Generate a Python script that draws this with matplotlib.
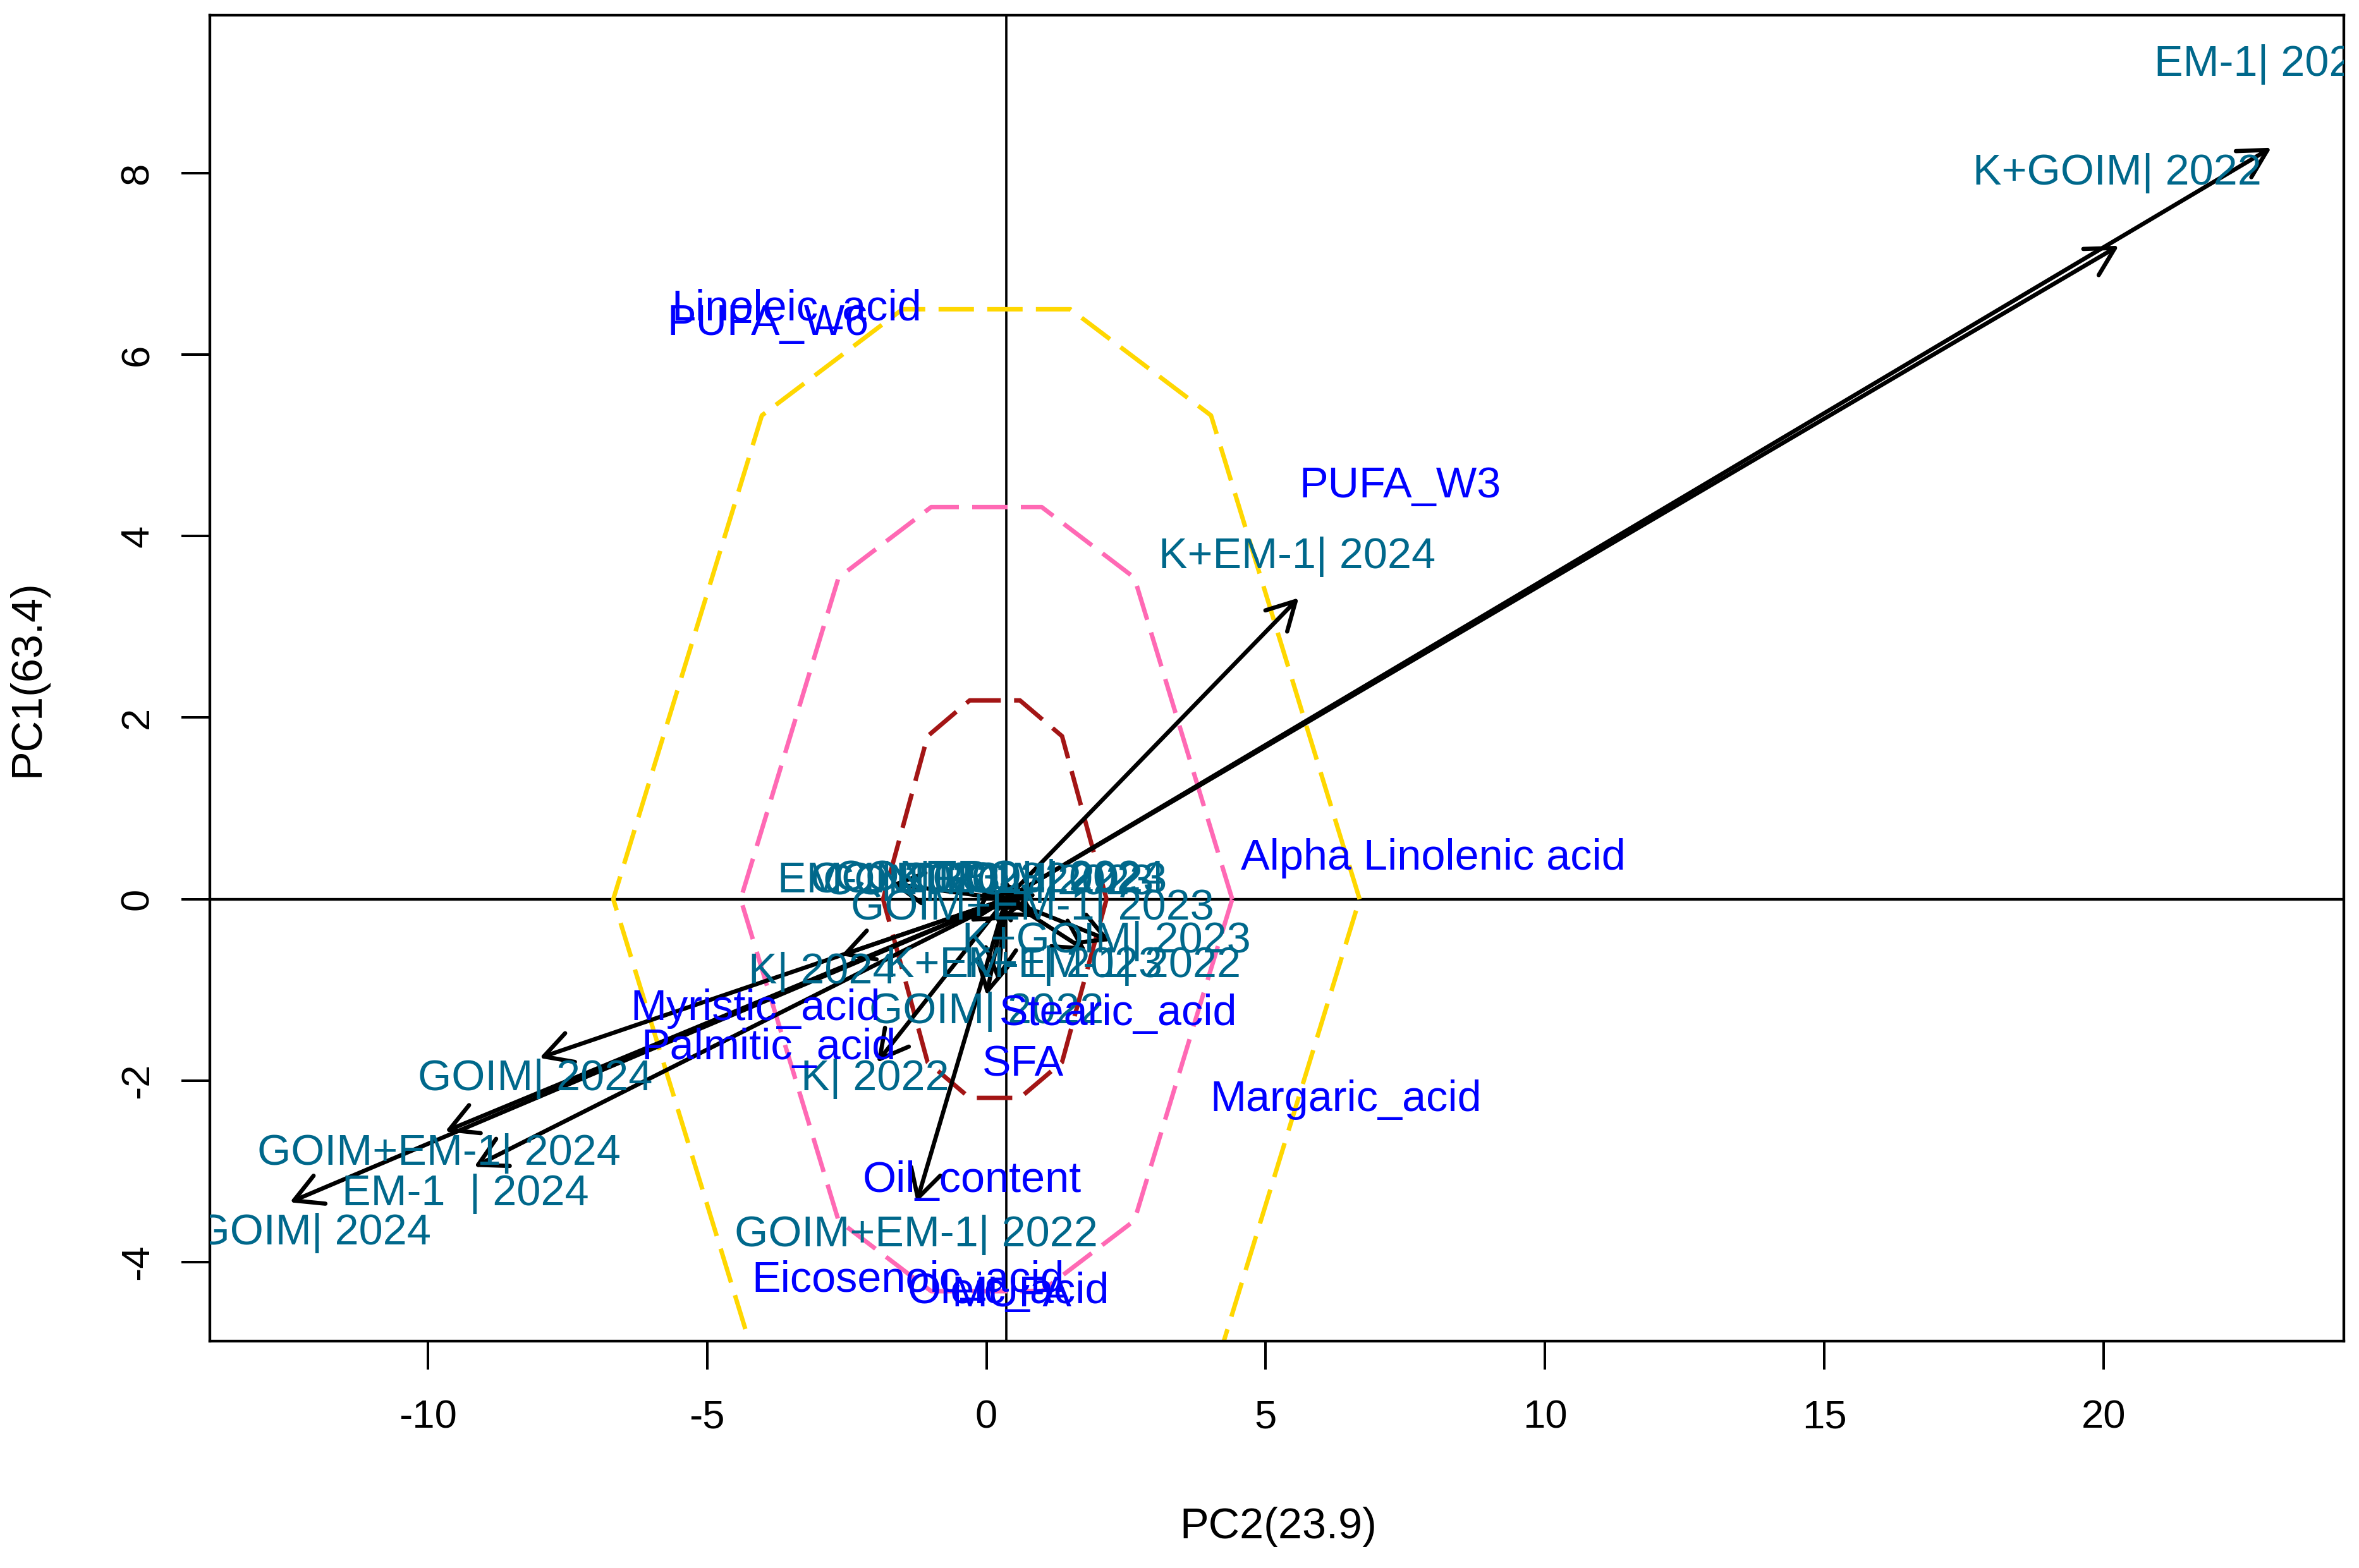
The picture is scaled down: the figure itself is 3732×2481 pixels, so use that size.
import matplotlib
matplotlib.use("Agg")
import matplotlib.pyplot as plt
import numpy as np

# tratamientos x año: posicion del texto (puntaje) y punta de la flecha
tratamientos = [
    "EM-1| 2022", "K+GOIM| 2022", "K+EM-1| 2024", "GOIM| 2024",
    "GOIM+EM-1| 2024", "EM-1  | 2024", "K+GOIM| 2024", "GOIM+EM-1| 2022",
    "K| 2022", "GOIM| 2022", "K| 2024", "K+GOIM| 2023", "K+EM-1| 2022",
    "EM-1| 2023", "CONTROL| 2022", "CONTROL| 2023", "CONTROL| 2024",
    "GOIM+EM-1| 2023", "K+EM-1| 2023", "GOIM| 2023", "K| 2023",
]
trat_x = [22.9, 20.24, 5.56, -8.08, -9.8, -9.33, -12.53, -1.26, -2.0, 0.0, -2.93,
          2.15, 2.08, -1.75, -0.19, 0.03, 0.24, 0.82, 0.67, 1.13, -0.3]
trat_y = [9.2, 8.0, 3.77, -1.98, -2.8, -3.25, -3.68, -3.7, -1.98, -1.24, -0.8,
          -0.46, -0.73, 0.2, 0.2, 0.18, 0.22, -0.1, -0.73, 0.2, 0.2]
flecha_x = [23.0, 20.27, 5.59, -8.0, -9.69, -9.17, -12.47, -1.25, -1.96, 0.0, -2.6,
            2.22, 1.79, -1.7, 0.1, 0.6, 0.9, 0.7, 0.2, 0.9, -0.3]
flecha_y = [8.28, 7.2, 3.32, -1.75, -2.56, -2.95, -3.34, -3.34, -1.8, -1.06, -0.62,
            -0.46, -0.57, 0.17, 0.1, 0.08, 0.05, -0.12, -0.9, -0.2, -0.25]

# variables (acidos grasos) en azul, sin flecha
variables = [
    "Linoleic_acid", "PUFA_W6", "PUFA_W3", "Alpha Linolenic acid", "Myristic_acid",
    "Palmitic_acid", "Stearic_acid", "SFA", "Margaric_acid", "Oil_content",
    "Eicosenoic_acid", "Oleic_acid", "MUFA",
]
var_x = [-3.4, -3.91, 7.4, 8.0, -4.14, -3.9, 2.36, 0.66, 6.43, -0.26, -1.4, 0.4, 0.45]
var_y = [6.5, 6.34, 4.55, 0.45, -1.21, -1.64, -1.26, -1.82, -2.21, -3.1, -4.2, -4.33, -4.36]

# elipses de concentracion: centro y semiejes
elipse_cx = [0.0, 0.0, 0.15]
elipse_cy = [0.0, 0.0, 0.0]
elipse_a = [6.68, 4.40, 2.0]
elipse_b = [6.50, 4.32, 2.19]
elipse_col = ["#FFD700", "#FF69B4", "#A31515"]

origen = (0.35, 0.0)

plt.rcParams["font.family"] = ["Liberation Sans", "DejaVu Sans"]
plt.rcParams["axes.unicode_minus"] = False

fig = plt.figure(figsize=(3732 / 240, 2481 / 240), dpi=240)
ax = fig.add_axes([0.089, 0.1447, 0.9046, 0.8456])

# elipses poligonales (pocos vertices, como en la figura original)
angulos = np.deg2rad([0, 53, 77, 103, 127, 180, 233, 257, 283, 307, 360])
for cx, cy, a, b, col in zip(elipse_cx, elipse_cy, elipse_a, elipse_b, elipse_col):
    px = cx + a * np.cos(angulos)
    py = cy + b * np.clip(np.sin(angulos) / 0.974, -1, 1)
    ax.plot(px, py, color=col, lw=2.1, linestyle=(0, (8, 3)), zorder=2)

ax.axhline(0, color="black", lw=1.3, zorder=1)
ax.axvline(origen[0], color="black", lw=1.1, zorder=1)

# flechas desde el origen
for fx, fy in zip(flecha_x, flecha_y):
    ax.annotate(
        "", xy=(fx, fy), xytext=origen,
        arrowprops=dict(arrowstyle="->,head_length=0.55,head_width=0.3",
                        color="black", lw=2.0, mutation_scale=24,
                        shrinkA=0, shrinkB=0),
        zorder=3,
    )

for s, x, y in zip(tratamientos, trat_x, trat_y):
    ax.text(x, y, s, color="#00688B", fontsize=20.5, ha="center", va="center",
            clip_on=True, zorder=4)

for s, x, y in zip(variables, var_x, var_y):
    ax.text(x, y, s, color="#0000FF", fontsize=20.5, ha="center", va="center",
            clip_on=True, zorder=4)

ax.set_xlim(-13.9, 24.3)
ax.set_ylim(-4.87, 9.74)
ax.set_xticks([-10, -5, 0, 5, 10, 15, 20])
ax.set_yticks([-4, -2, 0, 2, 4, 6, 8])
ax.tick_params(axis="both", length=13.5, width=1.2, labelsize=19, direction="out")
ax.tick_params(axis="x", pad=14)
ax.tick_params(axis="y", pad=12, labelrotation=90)
for lab in ax.get_yticklabels():
    lab.set_va("center")
for sp in ax.spines.values():
    sp.set_linewidth(1.3)

fig.text(0.542, 0.026, "PC2(23.9)", fontsize=20.5, ha="center", va="center")
fig.text(0.0115, 0.5675, "PC1(63.4)", fontsize=20.5, ha="center", va="center",
         rotation=90)

fig.savefig("out.png", dpi=240, facecolor="white")
